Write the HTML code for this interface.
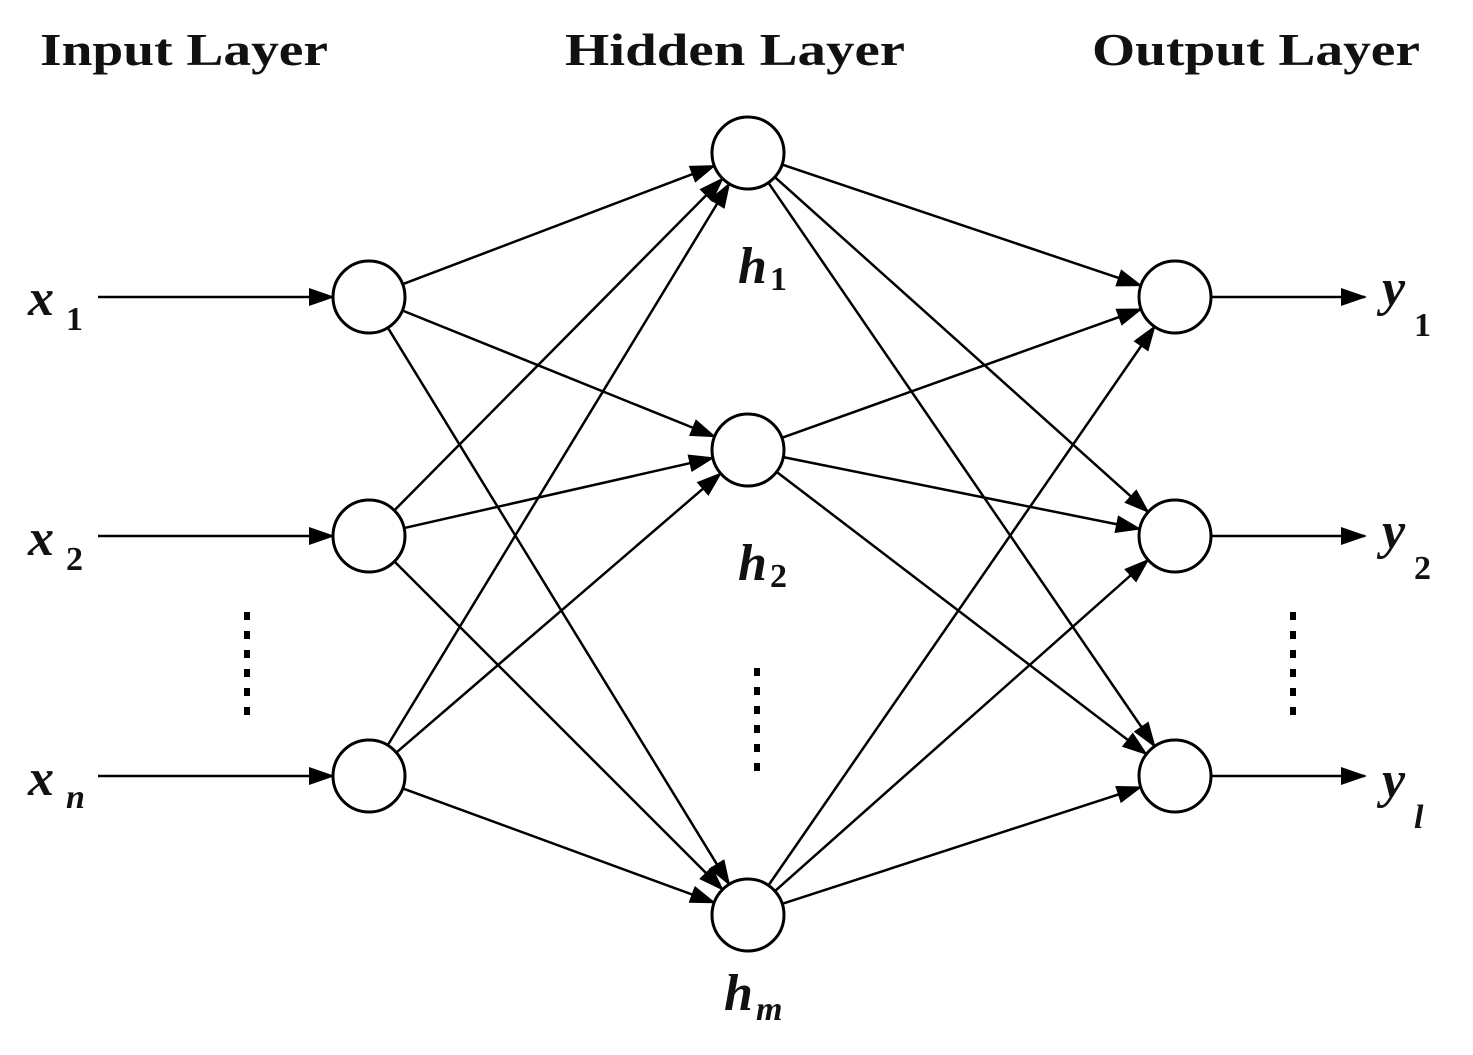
<!DOCTYPE html>
<html><head><meta charset="utf-8">
<style>
html,body{margin:0;padding:0;background:#fff;}
svg{display:block;}
.t{font-family:"Liberation Serif",serif;font-weight:bold;font-size:46px;fill:#111;}
.v{font-family:"Liberation Serif",serif;font-weight:bold;font-style:italic;font-size:52px;fill:#111;}
.s{font-family:"Liberation Serif",serif;font-weight:bold;font-style:italic;font-size:34px;fill:#111;}
.u{font-family:"Liberation Serif",serif;font-weight:bold;font-size:34px;fill:#111;}
</style></head>
<body>
<svg id="g" width="1473" height="1055" viewBox="0 0 1473 1055" xmlns="http://www.w3.org/2000/svg">
<defs>
<marker id="a" markerWidth="26" markerHeight="18" refX="24" refY="9" orient="auto" markerUnits="userSpaceOnUse">
<path d="M0,0 L26,9 L0,18 Z" fill="#000"/>
</marker>
</defs>
<text class="t" x="40" y="65" textLength="288" lengthAdjust="spacingAndGlyphs">Input Layer</text>
<text class="t" x="565" y="65" textLength="340" lengthAdjust="spacingAndGlyphs">Hidden Layer</text>
<text class="t" x="1092" y="65" textLength="328" lengthAdjust="spacingAndGlyphs">Output Layer</text>

<text class="v" x="28" y="315">x</text><text class="u" x="66" y="330">1</text>
<text class="v" x="28" y="555">x</text><text class="u" x="66" y="570">2</text>
<text class="v" x="28" y="795">x</text><text class="s" x="66" y="808">n</text>

<text class="v" x="738" y="283">h</text><text class="u" x="770" y="290">1</text>
<text class="v" x="738" y="580">h</text><text class="u" x="770" y="587">2</text>
<text class="v" x="724" y="1010">h</text><text class="s" x="756" y="1020">m</text>

<text class="v" x="1382" y="305">y</text><text class="u" x="1414" y="336">1</text>
<text class="v" x="1382" y="548">y</text><text class="u" x="1414" y="579">2</text>
<text class="v" x="1382" y="797">y</text><text class="s" x="1414" y="828">l</text>

<g id="lines" stroke="#000" stroke-width="2.5" fill="none"></g>
<g id="nodes" stroke="#000" stroke-width="3" fill="#fff"></g>
<g id="dots" fill="#000"></g>
</svg>
<script>
var NS="http://www.w3.org/2000/svg";
var I=[[369,297],[369,536],[369,776]],H=[[748,153],[748,450],[748,915]],O=[[1175,297],[1175,536],[1175,776]],R=36;
var L=document.getElementById("lines"),N=document.getElementById("nodes"),D=document.getElementById("dots");
function line(x1,y1,x2,y2,arrow){var e=document.createElementNS(NS,"line");e.setAttribute("x1",x1);e.setAttribute("y1",y1);e.setAttribute("x2",x2);e.setAttribute("y2",y2);if(arrow)e.setAttribute("marker-end","url(#a)");L.appendChild(e);}
function conn(a,b){var dx=b[0]-a[0],dy=b[1]-a[1],d=Math.hypot(dx,dy),ux=dx/d,uy=dy/d;line(a[0]+ux*R,a[1]+uy*R,b[0]-ux*R,b[1]-uy*R,true);}
I.forEach(function(a){H.forEach(function(b){conn(a,b);});});
H.forEach(function(a){O.forEach(function(b){conn(a,b);});});
I.forEach(function(p){line(98,p[1],p[0]-R,p[1],true);});
O.forEach(function(p){line(p[0]+R,p[1],1365,p[1],true);});
[I,H,O].forEach(function(g){g.forEach(function(p){var c=document.createElementNS(NS,"circle");c.setAttribute("cx",p[0]);c.setAttribute("cy",p[1]);c.setAttribute("r",R);N.appendChild(c);});});
function dots(x,y0){for(var i=0;i<6;i++){var r=document.createElementNS(NS,"rect");r.setAttribute("x",x-3);r.setAttribute("y",y0+i*19);r.setAttribute("width",6);r.setAttribute("height",8);D.appendChild(r);}}
dots(247,612);dots(757,668);dots(1293,612);
</script>
</body></html>
